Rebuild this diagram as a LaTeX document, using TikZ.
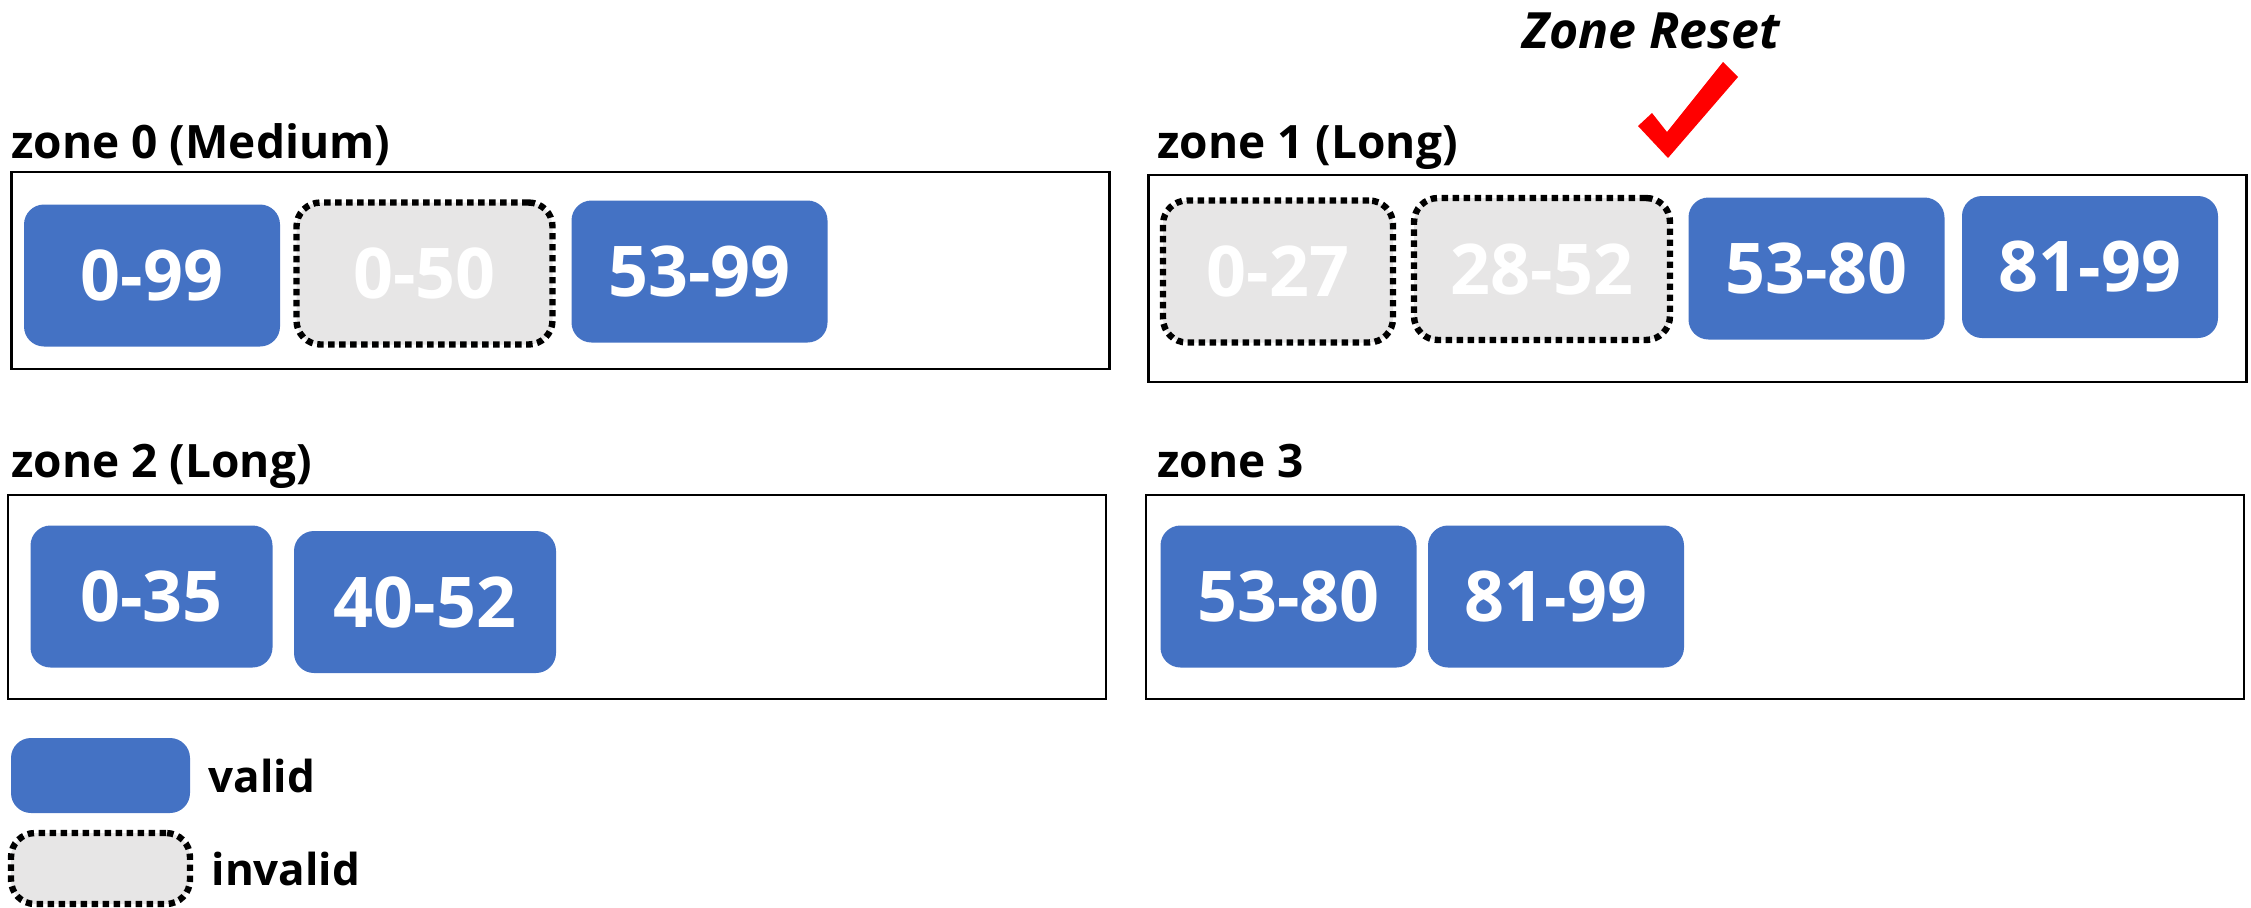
\documentclass[tikz,border=0pt]{standalone}
\usepackage{fontspec}
\setmainfont{Open Sans}
\usetikzlibrary{positioning}
\definecolor{valblue}{HTML}{4472C4}
\definecolor{invgray}{HTML}{E7E6E6}
\tikzset{
  blk/.style={rounded corners=10pt,fill=valblue,text=white,minimum width=128pt,minimum height=71pt,inner sep=0pt,font=\fontsize{35}{35}\selectfont\bfseries},
  inv/.style={blk,fill=invgray,draw=black,line width=3.2pt,dash pattern=on 3.2pt off 2.3pt,rounded corners=12pt},
  zonebox/.style={draw,line width=1.2pt,minimum width=549pt,inner sep=0pt},
  zlbl/.style={anchor=base west,inner sep=0pt,font=\fontsize{23}{23}\selectfont\bfseries},
  leg/.style={anchor=west,inner sep=0pt,font=\fontsize{22}{22}\selectfont\bfseries},
}

\begin{document}
\begin{tikzpicture}[x=0.5pt,y=-0.5pt]
 \useasboundingbox (0,0) rectangle (2251,907);
 % zones
 \node[zonebox,minimum height=98.5pt] (z0) at (560.5,270.5){}; \node[zlbl] (l0) at (11,158){zone 0 (Medium)};
 \node[zonebox,minimum height=103.5pt] (z1) at (1697.5,278.5){}; \node[zlbl] (l1) at (1157,158){zone 1 (Long)};
 \node[zonebox,minimum height=102pt] (z2) at (557,597){}; \node[zlbl] (l2) at (11,477){zone 2 (Long)};
 \node[zonebox,minimum height=102pt] (z3) at (1695,597){}; \node[zlbl] (l3) at (1157,477){zone 3};
 % zone 0
 \node[blk] (a0) at (152,275.5){0-99}; \node[inv] (a1) at (424.5,273.5){0-50}; \node[blk] (a2) at (699.5,271.5){53-99};
 % zone 1
 \node[inv,minimum width=115pt] (b0) at (1278,271.5){0-27}; \node[inv] (b1) at (1542,269){28-52};
 \node[blk] (b2) at (1816.5,268.5){53-80}; \node[blk] (b3) at (2090,267){81-99};
 % zone 2, zone 3
 \node[blk,minimum width=121pt] (c0) at (151.5,596.5){0-35}; \node[blk,minimum width=131pt] (c1) at (425,602){40-52};
 \node[blk] (d0) at (1288.5,596.5){53-80}; \node[blk] (d1) at (1556,596.5){81-99};
 % reset mark
 \node[font=\fontsize{25}{25}\selectfont\bfseries\itshape] (zr) at (1651,31){Zone Reset};
 \fill[red] (1638,126)--(1668,158)--(1738,77)--(1723,62)--(1667,132)--(1652,113)--cycle;
 % legend
 \node[blk,minimum width=89.5pt,minimum height=37.5pt] (kv) at (100.5,775.5){}; \node[leg,right=9pt of kv] (tv){valid};
 \node[inv,minimum width=89.5pt,minimum height=35.5pt] (ki) at (100.5,868.5){}; \node[leg,right=9pt of ki] (ti){invalid};
\end{tikzpicture}
\end{document}
